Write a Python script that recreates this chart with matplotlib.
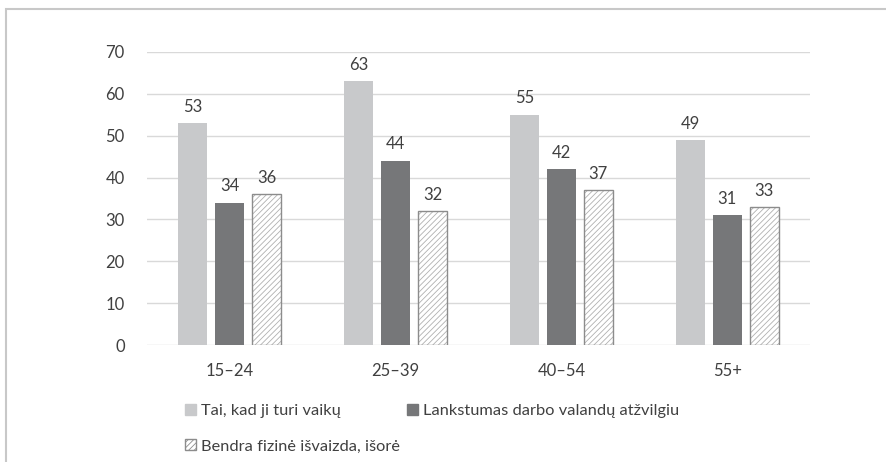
import matplotlib.pyplot as plt
import numpy as np
from matplotlib.patches import Rectangle, Patch

groups = ['15–24', '25–39', '40–54', '55+']
s_children = [53, 63, 55, 49]
s_flex = [34, 44, 42, 31]
s_look = [36, 32, 37, 33]
labels = ['Tai, kad ji turi vaikų', 'Lankstumas darbo valandų atžvilgiu',
          'Bendra fizinė išvaizda, išorė']

plt.rcParams['font.family'] = ['Lato', 'DejaVu Sans']
txt = '#404040'
c_light = '#c8c9cb'
c_dark = '#767779'
c_edge = '#8c8c8c'
c_hatch = '#b0b0b0'

fig = plt.figure(figsize=(8.86, 4.62), dpi=100)
ax = fig.add_axes([147/886, 117/462, 663/886, 293/462])

x = np.arange(len(groups))
w = 0.175
step = 0.223

b1 = ax.bar(x - step, s_children, w, color=c_light, zorder=3)
b2 = ax.bar(x, s_flex, w, color=c_dark, zorder=3)
plt.rcParams['hatch.linewidth'] = 0.6
b3 = ax.bar(x + step, s_look, w, color='white', edgecolor=c_hatch,
            hatch='//////', linewidth=0, zorder=3)
ax.bar(x + step, s_look, w, color='none', edgecolor=c_edge, linewidth=1.0, zorder=4)

for bars in (b1, b2, b3):
    ax.bar_label(bars, padding=6, fontsize=12, color=txt)

ax.set_xlim(-0.5, len(groups) - 0.5)
ax.set_ylim(0, 70)
ax.set_yticks(range(0, 71, 10))
ax.set_xticks(x)
ax.set_xticklabels(groups)
ax.yaxis.grid(True, color='#d9d9d9', linewidth=1.0, zorder=0)
ax.set_axisbelow(True)
for s in ax.spines.values():
    s.set_visible(False)
ax.tick_params(axis='both', length=0, labelsize=12, colors=txt)
ax.tick_params(axis='y', pad=16)
ax.tick_params(axis='x', pad=13)

handles = [Patch(facecolor=c_light, edgecolor=c_light),
           Patch(facecolor='white', edgecolor=c_edge, hatch='//////'),
           Patch(facecolor=c_dark, edgecolor=c_dark)]
leg = fig.legend(handles, [labels[0], labels[2], labels[1]], ncol=2,
                 loc='upper left', bbox_to_anchor=(185/886, 1 - 404/462),
                 frameon=False, fontsize=11.8, handlelength=0.7,
                 handleheight=0.7, handletextpad=0.25, columnspacing=0.45,
                 labelspacing=1.25, borderaxespad=0, borderpad=0)
for t in leg.get_texts():
    t.set_color(txt)

fig.patches.append(Rectangle((6/886, -0.1), 1.2, (453/462) + 0.1,
                             transform=fig.transFigure, fill=False,
                             edgecolor='#c8c8c8', linewidth=1.5))

fig.savefig('out.png', dpi=100)
